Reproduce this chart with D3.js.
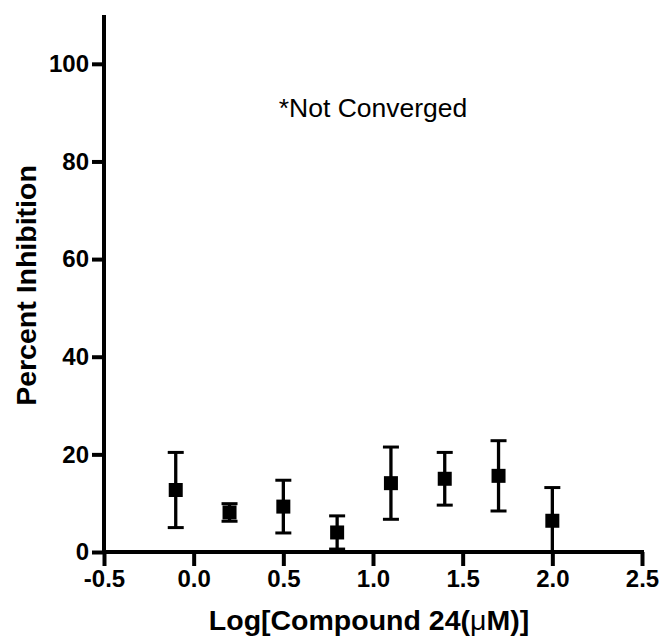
<!DOCTYPE html>
<html lang="en">
<head>
    <meta charset="UTF-8">
    <title>Percent Inhibition - Compound 24</title>
    <script src="https://d3js.org/d3.v7.min.js"></script>
    <style>
        body { margin: 0; background: #fff; }
        svg { display: block; font-family: "Liberation Sans", Arial, sans-serif; }
        .tick text { font-size: 24px; font-weight: bold; fill: #000; }
        .axis-title { font-size: 28.5px; font-weight: bold; }
    </style>
</head>
<body>
    <svg id="chart" width="664" height="641"></svg>

    <script>
        // Data
        const logConc = [-0.1, 0.2, 0.5, 0.8, 1.1, 1.4, 1.7, 2.0];
        const inhibition = [12.7, 8.1, 9.3, 4.0, 14.1, 15.0, 15.6, 6.4];
        const errorSD = [7.7, 1.8, 5.4, 3.4, 7.4, 5.4, 7.2, 6.8];
        const xTicks = [-0.5, 0.0, 0.5, 1.0, 1.5, 2.0, 2.5];
        const yTicks = [0, 20, 40, 60, 80, 100];

        const svg = d3.select('#chart');

        // Scales (pixel ranges picked to line up with the reference)
        const x = d3.scaleLinear().domain([-0.5, 2.5]).range([104, 642]);
        const y = d3.scaleLinear().domain([0, 110]).range([552, 15]);

        // x axis - plain hyphen for negatives, like the original
        const xAxis = d3.axisBottom(x)
            .tickValues(xTicks)
            .tickFormat(d => d.toFixed(1))
            .tickSize(14)
            .tickSizeOuter(0)
            .tickPadding(6);

        const xg = svg.append('g')
            .attr('transform', `translate(0,${y(0)})`)
            .call(xAxis);
        xg.select('.domain').attr('stroke', '#000').attr('stroke-width', 4)
            .attr('d', `M${x(-0.5) - 2},0H${x(2.5) + 2}`);
        xg.selectAll('.tick line').attr('stroke', '#000').attr('stroke-width', 4);
        xg.selectAll('.tick text').attr('dy', '0.72em').attr('y', 18);

        // y axis
        const yAxis = d3.axisLeft(y)
            .tickValues(yTicks)
            .tickSize(12)
            .tickSizeOuter(0)
            .tickPadding(3);

        const yg = svg.append('g')
            .attr('transform', `translate(${x(-0.5)},0)`)
            .call(yAxis);
        yg.select('.domain').attr('stroke', '#000').attr('stroke-width', 4)
            .attr('d', `M0,${y(110)}V${y(0) + 2}`);
        yg.selectAll('.tick line').attr('stroke', '#000').attr('stroke-width', 4);

        // error bars
        const half = 8;
        const pts = svg.append('g');
        logConc.forEach((lc, i) => {
            const hi = inhibition[i] + errorSD[i];
            const loRaw = inhibition[i] - errorSD[i];
            const lo = Math.max(0, loRaw);
            const cx = x(lc);

            pts.append('line')
                .attr('x1', cx).attr('x2', cx)
                .attr('y1', y(hi)).attr('y2', y(lo))
                .attr('stroke', '#000').attr('stroke-width', 3.3);

            pts.append('line')
                .attr('x1', cx - half).attr('x2', cx + half)
                .attr('y1', y(hi)).attr('y2', y(hi))
                .attr('stroke', '#000').attr('stroke-width', 3);

            // cap is hidden when the bar runs below the x axis
            if (loRaw >= 0) {
                pts.append('line')
                    .attr('x1', cx - half).attr('x2', cx + half)
                    .attr('y1', y(lo)).attr('y2', y(lo))
                    .attr('stroke', '#000').attr('stroke-width', 3);
            }
        });

        // square markers
        const size = 14;
        pts.selectAll('rect.pt')
            .data(logConc)
            .enter().append('rect')
            .attr('class', 'pt')
            .attr('x', d => x(d) - size / 2)
            .attr('y', (d, i) => y(inhibition[i]) - size / 2)
            .attr('width', size)
            .attr('height', size)
            .attr('fill', '#000');

        // axis titles
        const xt = svg.append('text')
            .attr('class', 'axis-title')
            .attr('x', (x(-0.5) + x(2.5)) / 2 - 4)
            .attr('y', 630)
            .attr('text-anchor', 'middle');
        xt.append('tspan').text('Log[Compound 24(');
        xt.append('tspan').style('font-weight', 'normal').text('\u03bc');
        xt.append('tspan').text('M)]');

        svg.append('text')
            .attr('class', 'axis-title')
            .attr('transform', `translate(36,${(y(0) + y(110)) / 2 + 2}) rotate(-90)`)
            .attr('text-anchor', 'middle')
            .text('Percent Inhibition');

        // annotation
        svg.append('text')
            .attr('x', 373)
            .attr('y', 117)
            .attr('text-anchor', 'middle')
            .style('font-size', '26.5px')
            .text('*Not Converged');
    </script>
</body>
</html>
